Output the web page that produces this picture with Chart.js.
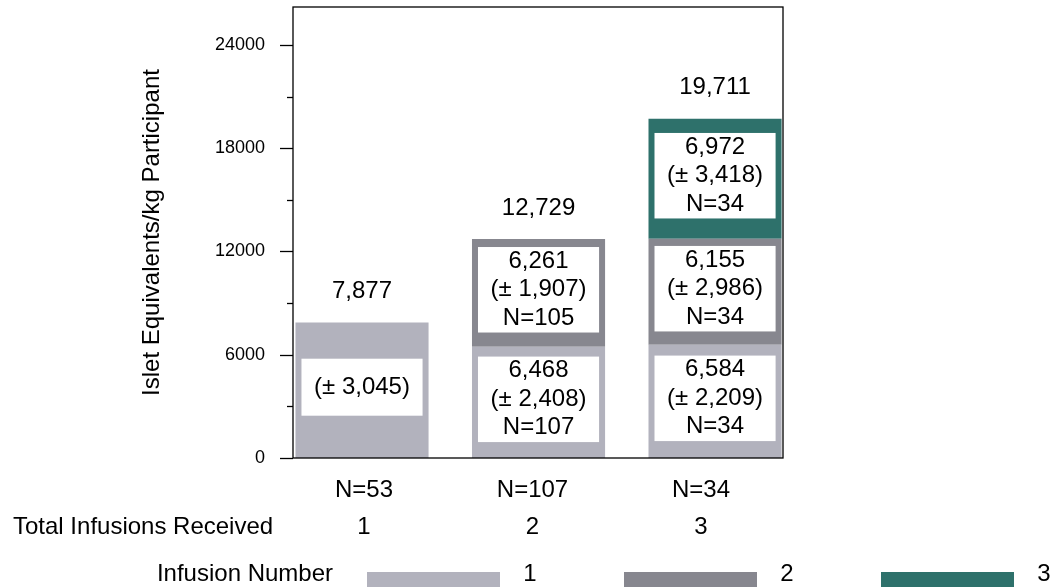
<!DOCTYPE html>
<html>
<head>
<meta charset="utf-8">
<script src="https://cdn.jsdelivr.net/npm/chart.js@4.4.0/dist/chart.umd.min.js"></script>
<style>
    html, body { margin: 0; padding: 0; background: #fff; }
    #wrap { width: 1055px; height: 588px; }
</style>
</head>
<body>
<div id="wrap"><canvas id="isletChart" width="1055" height="588"></canvas></div>
<script>
// --- data ---
const totalInfusions = [1, 2, 3];
const participantsN = [53, 107, 34];
const infusionNames = ['1', '2', '3'];

// mean IEQ/kg of each infusion, grouped by total infusions received
const infusion1Mean = [7877, 6468, 6584];
const infusion2Mean = [null, 6261, 6155];
const infusion3Mean = [null, null, 6972];

// standard deviations
const infusion1Sd = [3045, 2408, 2209];
const infusion2Sd = [null, 1907, 2986];
const infusion3Sd = [null, null, 3418];

// participants per infusion
const infusion1N = [null, 107, 34];
const infusion2N = [null, 105, 34];
const infusion3N = [null, null, 34];

// y axis: tick marks every 3000, labels every 6000
const yTickValues = [0, 3000, 6000, 9000, 12000, 15000, 18000, 21000, 24000];
const yTickLabels = ['0', '', '6000', '', '12000', '', '18000', '', '24000'];
const yMax = 26200;

const infusionColors = ['#b2b2bd', '#87878f', '#2e716b'];
const FONT = '"Liberation Sans", Arial, sans-serif';

const segments = [
    { mean: infusion1Mean, sd: infusion1Sd, n: infusion1N },
    { mean: infusion2Mean, sd: infusion2Sd, n: infusion2N },
    { mean: infusion3Mean, sd: infusion3Sd, n: infusion3N }
];

const fmt = v => v.toLocaleString('en-US');

// white text boxes inside every segment + totals above each stack
const segmentLabels = {
    id: 'segmentLabels',
    afterDatasetsDraw(chart) {
        const ctx = chart.ctx;
        ctx.save();
        ctx.font = '24px ' + FONT;
        ctx.textAlign = 'center';
        ctx.textBaseline = 'middle';
        const lineH = 28.5;

        segments.forEach((seg, d) => {
            const meta = chart.getDatasetMeta(d);
            meta.data.forEach((bar, i) => {
                const v = seg.mean[i];
                if (v == null) return;
                const stackSize = segments.filter(s => s.mean[i] != null).length;
                const lines = [];
                if (stackSize > 1) lines.push(fmt(v));
                lines.push('(\u00B1 ' + fmt(seg.sd[i]) + ')');
                if (seg.n[i] != null) lines.push('N=' + seg.n[i]);

                const { x, y, base, width } = bar.getProps(['x', 'y', 'base', 'width'], true);
                const h = Math.max(57, lines.length * lineH);
                const cy = (y + base) / 2 - 3;
                ctx.fillStyle = '#fff';
                ctx.fillRect(x - width / 2 + 6, cy - h / 2, width - 12, h);
                ctx.fillStyle = '#000';
                lines.forEach((t, k) => {
                    ctx.fillText(t, x, cy + (k - (lines.length - 1) / 2) * lineH);
                });
            });
        });

        // totals above the stacks
        totalInfusions.forEach((_, i) => {
            let top = null, x = null, total = 0;
            segments.forEach((seg, d) => {
                if (seg.mean[i] == null) return;
                total += seg.mean[i];
                const bar = chart.getDatasetMeta(d).data[i];
                top = bar.y;
                x = bar.x;
            });
            ctx.fillStyle = '#000';
            ctx.fillText(fmt(total), x, top - 31);
        });
        ctx.restore();
    }
};

// frame, y tick marks, row caption and legend
const slideDecor = {
    id: 'slideDecor',
    afterDraw(chart) {
        const ctx = chart.ctx;
        const area = chart.chartArea;
        const yScale = chart.scales.y;
        const labelScale = chart.scales.xLabels;
        ctx.save();

        ctx.strokeStyle = '#000';
        ctx.lineWidth = 1.3;
        ctx.strokeRect(area.left, area.top, area.right - area.left, area.bottom - area.top);

        yScale.ticks.forEach((t, k) => {
            const py = Math.round(yScale.getPixelForValue(t.value)) + 0.5;
            const len = yTickLabels[k] ? 13 : 6;
            ctx.beginPath();
            ctx.moveTo(area.left - len, py);
            ctx.lineTo(area.left, py);
            ctx.stroke();
        });

        ctx.fillStyle = '#000';
        ctx.font = '24px ' + FONT;
        ctx.textBaseline = 'middle';
        ctx.textAlign = 'left';
        ctx.fillText('Total Infusions Received', 13, labelScale.top + 14 + 37 * 1.5);

        // legend row
        const legendY = 574;
        ctx.textAlign = 'right';
        ctx.fillText('Infusion Number', 333, legendY);
        ctx.textAlign = 'center';
        chart.data.datasets.forEach((ds, d) => {
            const sx = 367 + d * 257;
            ctx.fillStyle = ds.backgroundColor;
            ctx.fillRect(sx, legendY - 2, 133, 15);
            ctx.fillStyle = '#000';
            ctx.fillText(infusionNames[d], sx + 163, legendY);
        });
        ctx.restore();
    }
};

const chart = new Chart(document.getElementById('isletChart'), {
    type: 'bar',
    data: {
        datasets: segments.map((seg, d) => ({
            label: 'Infusion ' + infusionNames[d],
            data: totalInfusions.map((t, i) => ({ x: t, y: seg.mean[i] })),
            backgroundColor: infusionColors[d],
            borderWidth: 0,
            barPercentage: 0.754,
            categoryPercentage: 1
        }))
    },
    options: {
        responsive: false,
        animation: false,
        devicePixelRatio: 1,
        layout: { padding: { top: 7, right: 272, left: 0, bottom: 0 } },
        plugins: {
            legend: { display: false },
            tooltip: { enabled: false }
        },
        scales: {
            // scale the bars sit on
            x: {
                type: 'linear',
                display: false,
                stacked: true,
                offset: false,
                min: 0.609,
                max: 3.385,
                afterBuildTicks: s => { s.ticks = totalInfusions.map(v => ({ value: v })); }
            },
            // the slide's text row under the plot is spaced a little tighter than the bars
            xLabels: {
                type: 'linear',
                position: 'bottom',
                offset: false,
                min: 0.5786,
                max: 3.4866,
                grid: { display: false, drawTicks: false },
                border: { display: false },
                afterBuildTicks: s => { s.ticks = totalInfusions.map(v => ({ value: v })); },
                afterFit: s => { s.height = 130; s.paddingLeft = 0; s.paddingRight = 0; },
                ticks: {
                    autoSkip: false,
                    maxRotation: 0,
                    padding: 14,
                    color: '#000',
                    font: { family: FONT, size: 24, lineHeight: 37 / 24 },
                    callback: v => {
                        const i = totalInfusions.indexOf(v);
                        return ['N=' + participantsN[i], String(totalInfusions[i])];
                    }
                }
            },
            y: {
                stacked: true,
                min: 0,
                max: yMax,
                grid: { display: false, drawTicks: false },
                border: { display: false },
                afterBuildTicks: s => { s.ticks = yTickValues.map(v => ({ value: v })); },
                afterFit: s => { s.width = 293; s.paddingTop = 0; s.paddingBottom = 0; },
                ticks: {
                    autoSkip: false,
                    padding: 28,
                    color: '#000',
                    font: { family: FONT, size: 18 },
                    callback: v => yTickLabels[yTickValues.indexOf(v)]
                },
                title: {
                    display: true,
                    text: 'Islet Equivalents/kg Participant',
                    color: '#000',
                    font: { family: FONT, size: 24 },
                    padding: { top: 137.6, bottom: 0 }
                }
            }
        }
    },
    plugins: [segmentLabels, slideDecor]
});
</script>
</body>
</html>
